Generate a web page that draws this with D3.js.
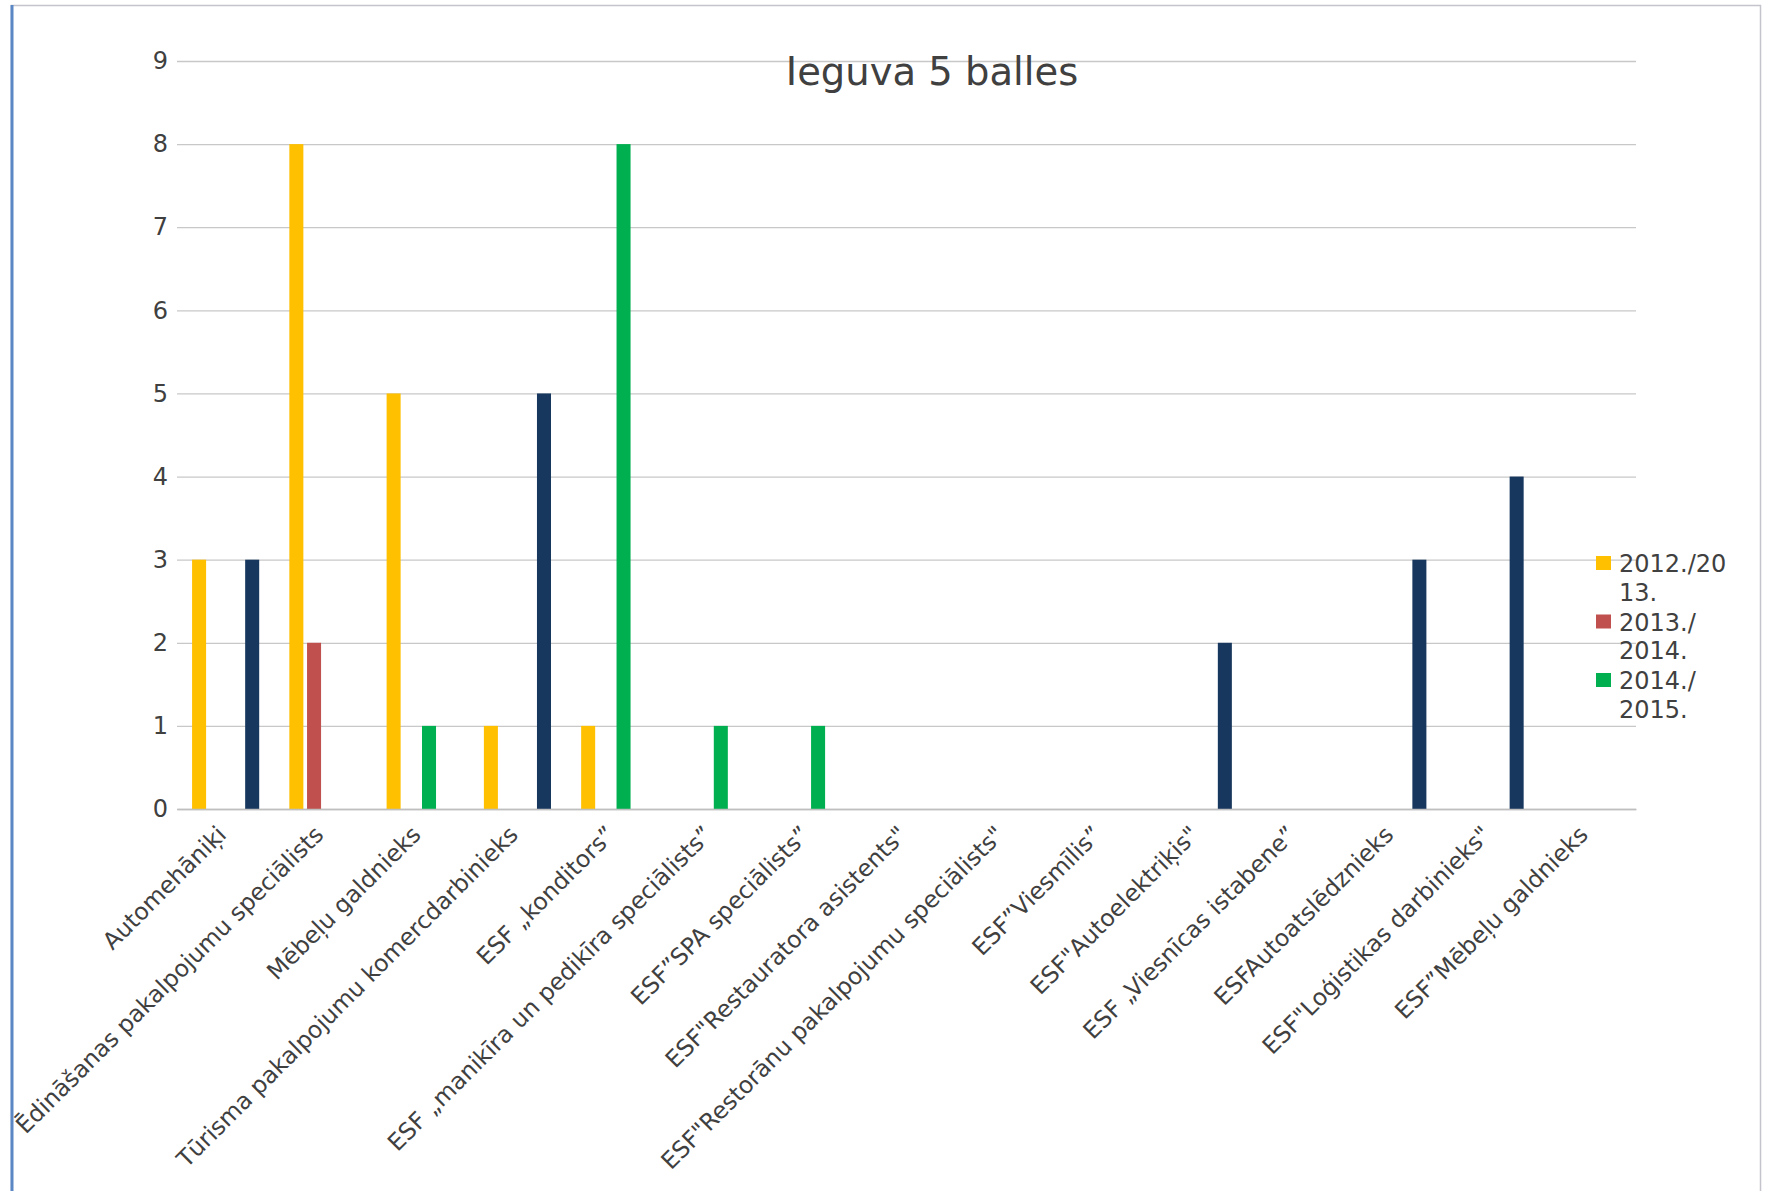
<!DOCTYPE html>
<html lang="lv">
<head>
  <meta charset="UTF-8">
  <title>Ieguva 5 balles</title>
  <script src="https://d3js.org/d3.v7.min.js"></script>
  <style>
    body { margin: 0; background: #fff; font-family: "DejaVu Sans", sans-serif; }
    .axis text { fill: #404040; }
    .grid line { stroke: #c8c8c8; stroke-width: 1.3; }
  </style>
</head>
<body>
  <svg width="1767" height="1191"></svg>
  <script>
    const categories = [
      "Automehāniķi",
      "Ēdināšanas pakalpojumu speciālists",
      "Mēbeļu galdnieks",
      "Tūrisma pakalpojumu komercdarbinieks",
      "ESF  „konditors”",
      "ESF „manikīra un pedikīra speciālists”",
      "ESF”SPA speciālists”",
      "ESF\"Restauratora asistents\"",
      "ESF\"Restorānu pakalpojumu speciālists\"",
      "ESF”Viesmīlis”",
      "ESF\"Autoelektriķis\"",
      "ESF „Viesnīcas istabene”",
      "ESFAutoatslēdznieks",
      "ESF\"Loģistikas darbinieks\"",
      "ESF”Mēbeļu galdnieks"
    ];
    const seriesNames = ["2012./2013.", "2013./2014.", "2014./2015.", "2015./2016."];
    const legendLines = [["2012./20", "13."], ["2013./", "2014."], ["2014./", "2015."]];
    const v2012 = [3, 8, 5, 1, 1, 0, 0, 0, 0, 0, 0, 0, 0, 0, 0];
    const v2013 = [0, 2, 0, 0, 0, 0, 0, 0, 0, 0, 0, 0, 0, 0, 0];
    const v2014 = [0, 0, 1, 0, 8, 1, 1, 0, 0, 0, 0, 0, 0, 0, 0];
    const v2015 = [3, 0, 0, 5, 0, 0, 0, 0, 0, 0, 2, 0, 3, 4, 0];
    const yTicks = [0, 1, 2, 3, 4, 5, 6, 7, 8, 9];
    const colors = ["#ffc000", "#c0504d", "#00b050", "#17375e"];

    const allValues = [v2012, v2013, v2014, v2015];
    const table = categories.map((c, i) => ({
      cat: c,
      vals: seriesNames.map((s, k) => ({ series: s, value: allValues[k][i] }))
    }));

    const svg = d3.select("svg");

    // frame
    svg.append("rect").attr("x", 11.5).attr("y", 5.5).attr("width", 1749).attr("height", 1200)
      .attr("fill", "none").attr("stroke", "#c4c4cc").attr("stroke-width", 1.5);
    svg.append("line").attr("x1", 12).attr("x2", 12).attr("y1", 5).attr("y2", 1191)
      .attr("stroke", "#5b87c5").attr("stroke-width", 3);

    const plotL = 177, plotR = 1636, plotT = 61, plotB = 809;

    const x0 = d3.scaleBand().domain(categories).range([plotL, plotR])
      .paddingInner(0.31).paddingOuter(0.155);
    const x1 = d3.scaleBand().domain(seriesNames).range([0, x0.bandwidth()])
      .paddingInner(0.2075);
    const y = d3.scaleLinear().domain([0, 9]).range([plotB, plotT]);

    // gridlines
    svg.append("g").attr("class", "grid")
      .attr("transform", `translate(${plotL},0)`)
      .call(d3.axisLeft(y).tickValues(yTicks).tickSize(-(plotR - plotL)).tickFormat(""))
      .call(g => g.select(".domain").remove());

    // y labels
    svg.append("g").attr("class", "axis")
      .attr("transform", `translate(${plotL},0)`)
      .call(d3.axisLeft(y).tickValues(yTicks).tickSize(0).tickPadding(9))
      .call(g => g.select(".domain").remove())
      .selectAll("text").style("font-size", "24px").style("font-family", "DejaVu Sans");

    // bars
    svg.append("g").selectAll("g").data(table).join("g")
      .attr("transform", d => `translate(${x0(d.cat)},0)`)
      .selectAll("rect").data(d => d.vals.filter(v => v.value > 0)).join("rect")
      .attr("x", d => x1(d.series))
      .attr("width", x1.bandwidth())
      .attr("y", d => y(d.value))
      .attr("height", d => y(0) - y(d.value))
      .attr("fill", d => colors[seriesNames.indexOf(d.series)]);

    // x axis
    const xAxis = svg.append("g").attr("class", "axis")
      .attr("transform", `translate(0,${plotB})`)
      .call(d3.axisBottom(x0).tickSize(0).tickPadding(0));
    xAxis.select(".domain").attr("stroke", "#bfbfbf").attr("stroke-width", 1.5);
    xAxis.selectAll("text")
      .style("font-size", "23.5px").style("font-family", "DejaVu Sans")
      .attr("text-anchor", "end")
      .attr("dy", null).attr("y", null)
      .attr("transform", "translate(2,27) rotate(-45)");

    // title
    svg.append("text").attr("x", 932).attr("y", 85).attr("text-anchor", "middle")
      .attr("fill", "#404040").style("font-size", "38.5px").text("Ieguva 5 balles");

    // legend
    const legend = svg.append("g").selectAll("g").data(legendLines).join("g")
      .attr("transform", (d, i) => `translate(1596,${556 + i * 58.5})`);
    legend.append("rect").attr("width", 15).attr("height", 14)
      .attr("fill", (d, i) => colors[i]);
    legend.selectAll("text").data(d => d).join("text")
      .attr("x", 23).attr("y", (d, j) => 16 + j * 28.5)
      .attr("fill", "#404040").style("font-size", "24px").text(d => d);
  </script>
</body>
</html>
